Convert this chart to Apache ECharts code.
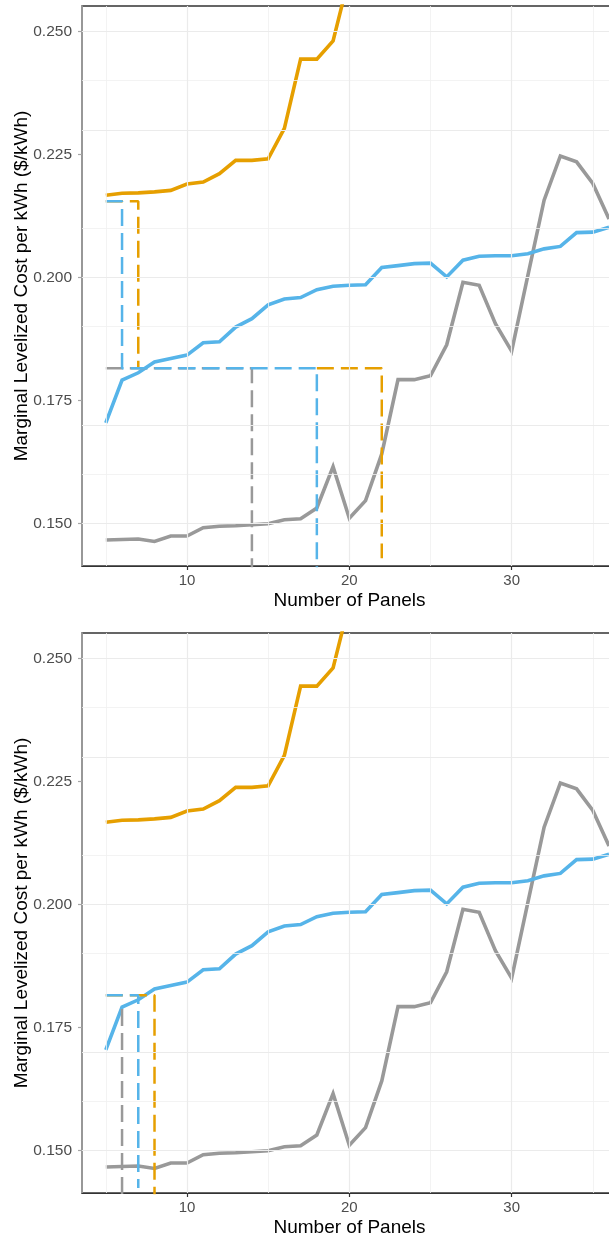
<!DOCTYPE html>
<html>
<head>
<meta charset="utf-8">
<script src="https://cdn.jsdelivr.net/npm/echarts@6/dist/echarts.min.js"></script>
<style>
  html, body { margin: 0; padding: 0; background: #fff; overflow: hidden; }
  #chart { width: 624px; height: 1241px; }
</style>
</head>
<body>
<div id="chart"></div>
<script>
// Number of panels (x) and marginal levelized cost per kWh for the three scenarios
const panels = [5, 6, 7, 8, 9, 10, 11, 12, 13, 14, 15, 16, 17, 18, 19, 20,
  21, 22, 23, 24, 25, 26, 27, 28, 29, 30, 31, 32, 33, 34, 35, 36];

const costGray = [0.1466, 0.1467, 0.1468, 0.1463, 0.1474, 0.1474, 0.1491, 0.1494,
  0.1495, 0.1497, 0.1499, 0.1507, 0.1509, 0.1531, 0.1615, 0.1510,
  0.1546, 0.1641, 0.1792, 0.1792, 0.1800, 0.1863, 0.1990, 0.1984,
  0.1906, 0.1850, 0.2004, 0.2157, 0.2247, 0.2235, 0.2191, 0.2119];

const costBlue = [0.1704, 0.1791, 0.1806, 0.1828, 0.1835, 0.1842, 0.1867, 0.1869,
  0.1899, 0.1916, 0.1944, 0.1956, 0.1959, 0.1975, 0.1982, 0.1984,
  0.1985, 0.2020, 0.2024, 0.2028, 0.2029, 0.2001, 0.2035, 0.2043,
  0.2044, 0.2044, 0.2048, 0.2058, 0.2063, 0.2091, 0.2092, 0.2102];

const costOrange = [0.2167, 0.2171, 0.2172, 0.2174, 0.2177, 0.2190, 0.2194, 0.2211,
  0.2238, 0.2238, 0.2241, 0.2303, 0.2444, 0.2444, 0.2481, 0.2613,
  0.2680, 0.2750, 0.2810, 0.2860, 0.2920, 0.2990, 0.3050, 0.3100,
  0.3160, 0.3230, 0.3290, 0.3340, 0.3400, 0.3470, 0.3530, 0.3590];

// tick / grid positions
const xMajor = [10, 20, 30];
const xMinor = [5, 15, 25, 35];
const yMajor = [0.150, 0.175, 0.200, 0.225, 0.250];
const yMinor = [0.1625, 0.1875, 0.2125, 0.2375];

// dashed guide paths, upper panel
const topGrayGuide = [[5, 0.1815], [14, 0.1815], [14, 0.1405]];
const topOrangeGuideA = [[5, 0.2155], [7, 0.2155], [7, 0.1815]];
const topOrangeGuideB = [[18, 0.1815], [22, 0.1815], [22, 0.1429]];
const topBlueGuide = [[5, 0.2155], [6, 0.2155], [6, 0.1815], [18, 0.1815], [18, 0.1405]];

// dashed guide paths, lower panel
const botOrangeGuide = [[5, 0.1815], [8, 0.1815], [8, 0.1405]];
const botBlueGuide = [[5, 0.1815], [7, 0.1815], [7, 0.1423]];
const botGrayGuide = [[6, 0.1787], [6, 0.1405]];

const GRAY = "#999999";
const BLUE = "#56B4E9";
const ORANGE = "#E69F00";
const FONT = "Liberation Sans, Arial, sans-serif";

const pairs = (ys) => panels.map((x, i) => [x, ys[i]]);

function xAxisFor(i) {
  return {
    type: "value",
    gridIndex: i,
    min: 3.533,
    max: 36.49,
    name: "Number of Panels",
    nameLocation: "middle",
    nameGap: 25,
    nameMoveOverlap: false,
    nameTextStyle: { fontSize: 19, color: "#000", fontFamily: FONT },
    axisLine: { show: true, lineStyle: { color: "#333", width: 1.2 } },
    axisTick: { show: true, length: 4, customValues: xMajor, lineStyle: { color: "#333", width: 1.2 } },
    axisLabel: { customValues: xMajor, fontSize: 15, color: "#4D4D4D", margin: 7, fontFamily: FONT },
    splitLine: { show: false },
  };
}

function yAxisFor(i) {
  return {
    type: "value",
    gridIndex: i,
    min: 0.1413,
    max: 0.2552,
    name: "Marginal Levelized Cost per kWh ($/kWh)",
    nameLocation: "middle",
    nameGap: 51,
    nameMoveOverlap: false,
    nameTextStyle: { fontSize: 19, color: "#000", fontFamily: FONT },
    axisLine: { show: true, lineStyle: { color: "#A6A6A6", width: 1.6 } },
    axisTick: { show: true, length: 4, customValues: yMajor, lineStyle: { color: "#A6A6A6", width: 1.2 } },
    axisLabel: {
      customValues: yMajor,
      fontSize: 15.5,
      color: "#4D4D4D",
      margin: 10,
      fontFamily: FONT,
      formatter: (v) => v.toFixed(3),
    },
    splitLine: { show: false },
  };
}

function gridLines(i) {
  const base = { type: "line", xAxisIndex: i, yAxisIndex: i, data: [], silent: true, z: 1 };
  const ml = (data, width, color) => ({
    silent: true,
    symbol: ["none", "none"],
    label: { show: false },
    lineStyle: { color: color, width: width, type: "solid" },
    emphasis: { disabled: true },
    data: data,
  });
  return [
    Object.assign({}, base, {
      markLine: ml(xMinor.map((v) => ({ xAxis: v })).concat(yMinor.map((v) => ({ yAxis: v }))), 0.8, "#F0F0F0"),
    }),
    Object.assign({}, base, {
      markLine: ml(xMajor.map((v) => ({ xAxis: v })).concat(yMajor.map((v) => ({ yAxis: v }))), 1.2, "#EBEBEB"),
    }),
  ];
}

function curve(i, ys, color) {
  return {
    type: "line",
    xAxisIndex: i,
    yAxisIndex: i,
    data: pairs(ys),
    showSymbol: false,
    clip: true,
    z: 3,
    lineStyle: { color: color, width: 3.6, cap: "butt", join: "miter" },
  };
}

function guide(i, pts, color) {
  return {
    type: "line",
    xAxisIndex: i,
    yAxisIndex: i,
    data: pts,
    showSymbol: false,
    clip: true,
    z: 4,
    lineStyle: { color: color, width: 2.5, type: [17, 7], cap: "butt" },
  };
}

const series = [].concat(
  gridLines(0),
  gridLines(1),
  [
    curve(0, costOrange, ORANGE),
    curve(0, costGray, GRAY),
    curve(0, costBlue, BLUE),
    curve(1, costOrange, ORANGE),
    curve(1, costGray, GRAY),
    curve(1, costBlue, BLUE),
    guide(0, topGrayGuide, GRAY),
    guide(0, topOrangeGuideA, ORANGE),
    guide(0, topOrangeGuideB, ORANGE),
    guide(0, topBlueGuide, BLUE),
    guide(1, botOrangeGuide, ORANGE),
    guide(1, botBlueGuide, BLUE),
    guide(1, botGrayGuide, GRAY),
  ]
);

const gridBase = {
  left: 82, width: 535, height: 560,
  show: true, borderColor: "#333", borderWidth: 1.5,
  outerBoundsMode: "none", containLabel: false,
};

const option = {
  animation: false,
  backgroundColor: "#fff",
  grid: [
    Object.assign({}, gridBase, { top: 6 }),
    Object.assign({}, gridBase, { top: 633 }),
  ],
  xAxis: [xAxisFor(0), xAxisFor(1)],
  yAxis: [yAxisFor(0), yAxisFor(1)],
  series: series,
};

const myChart = echarts.init(document.getElementById("chart"));
myChart.setOption(option);
</script>
</body>
</html>
